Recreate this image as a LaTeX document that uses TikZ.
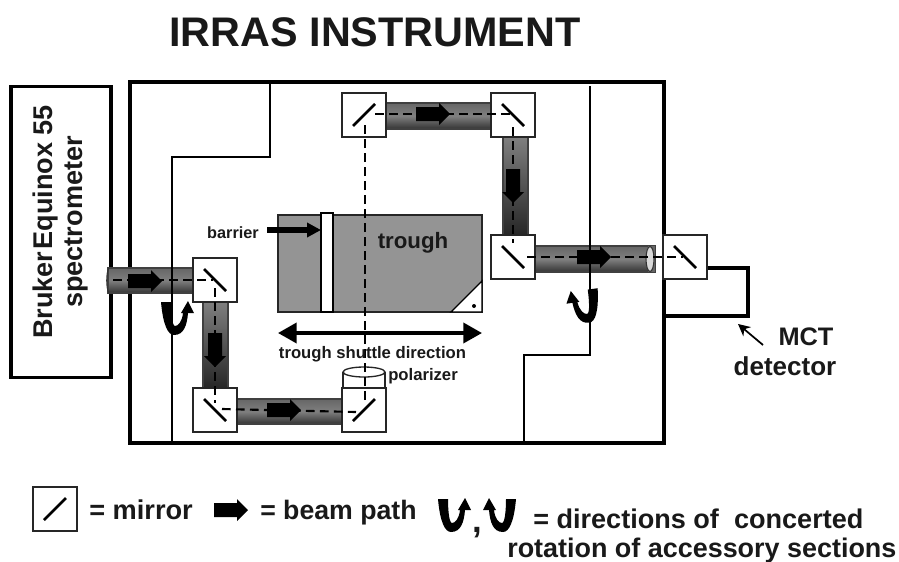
\documentclass[tikz,border=0pt]{standalone}
\usepackage{fontspec}
\setmainfont{Liberation Sans}
\usetikzlibrary{arrows.meta}
\definecolor{troughgray}{gray}{0.58}
\tikzset{
  x=0.75pt,y=-0.75pt,
  every node/.style={font=\bfseries,text=black!90,inner sep=0pt},
  mirrorbox/.style={draw=black!85,fill=white,line width=1.3pt,minimum size=33pt,shape=rectangle},
  thickbox/.style={draw=black,line width=2.5pt},
  thinline/.style={draw=black,line width=0.9pt},
  beamdash/.style={draw=black,line width=1.6pt,dash pattern=on 6.5pt off 4pt},
  tubeh/.style={draw=black!75,line width=0.9pt,top color=black!60,bottom color=black!80,middle color=black!50},
  tubev/.style={draw=black!75,line width=0.9pt,top color=black!50,bottom color=black!85},
  mirrordown/.pic={\draw[line width=2.1pt,black] (-11,-11)--(11,11);},
  mirrorup/.pic={\draw[line width=2.1pt,black] (-11,11)--(11,-11);},
  blockarrow/.pic={\fill[black] (-17,-7)--(6,-7)--(6,-11)--(17,0)--(6,11)--(6,7)--(-17,7)--cycle;},
  uarrow/.pic={\fill[black] (-14,-16) .. controls (-12,7) and (-7,17) .. (-1,17)
     .. controls (9,17) and (12,7) .. (13,-5) -- (19,-5) -- (13,-17) -- (6,-5) -- (8,-5)
     .. controls (7,4) and (3,8) .. (0,8) .. controls (-3,8) and (-4,-6) .. (-4,-16) -- cycle;},
}
\begin{document}
\begin{tikzpicture}
\useasboundingbox (0,0) rectangle (899,561);
\fill[white] (0,0) rectangle (899,561);

\node[font=\bfseries\fontsize{31}{33}\selectfont] (title) at (375,32) {IRRAS INSTRUMENT};

% spectrometer and main housing
\node[thickbox,minimum width=75pt,minimum height=218pt] (spec) at (61,232) {};
\node[rotate=90,anchor=base,font=\bfseries\fontsize{20.3}{24}\selectfont] (spec1) at (52,222) {Bruker\hspace{0.08em}Equinox 55};
\node[rotate=90,anchor=base,font=\bfseries\fontsize{20.3}{24}\selectfont] (spec2) at (82,222) {spectrometer};
\draw[thickbox] (130,82) rectangle (664,443);

% tubes
\shade[tubeh] (108,268) rectangle (193,293);
\shade[tubev] (203,302) rectangle (228,388);
\shade[tubeh] (237,399) rectangle (342,424);
\shade[tubeh] (386,103) rectangle (492,129);
\shade[tubev] (503,137) rectangle (528,235);
\shade[tubeh] (535,246) rectangle (655,272);
\draw[black!80,line width=0.8pt] (109,268) .. controls (106,272) and (106,289) .. (109,293);
\fill[black!60] (648,246) rectangle (655,272);
\draw[black!80,fill=white!70!gray,line width=0.8pt] (650,259) ellipse (4 and 12.5);

% inner partition lines
\draw[thinline] (270,82)--(270,157)--(172,157)--(172,443);
\draw[thinline] (590,86)--(590,355)--(524,355)--(524,443);

% trough
\draw[fill=troughgray,draw=black!85,line width=1pt] (278,215) rectangle (482,312);
\draw[fill=white,draw=black,line width=1pt] (321,213) rectangle (333,312);
\draw[fill=white,draw=black,line width=1pt] (451,312)--(482,281)--(482,312)--cycle;
\fill[black] (474,306) circle (2);
\node[font=\bfseries\fontsize{16.7}{18}\selectfont,anchor=base] (trough) at (413,248) {trough};

% detector wire
\node[mirrorbox] (m7) at (685,257) {};
\coordinate (wireA) at (748,268);
\coordinate (wireB) at (748,316);
\coordinate (wireC) at (664,316);
\draw[black,line width=2.5pt] (m7.east |- wireA)--(wireA)--(wireB)--(wireC);

% polarizer cylinder
\draw[black!85,line width=1pt] (343,372)--(343,388) (385,372)--(385,388);
\draw[black!85,line width=1pt] (364,372) ellipse (21 and 5);

% boxes
\node[mirrorbox] (m1) at (215,280) {};
\node[mirrorbox] (m2) at (215,410) {};
\node[mirrorbox] (m3) at (364,410) {};
\node[mirrorbox] (m4) at (364,115) {};
\node[mirrorbox] (m5) at (513,115) {};
\node[mirrorbox] (m6) at (513,257) {};
\pic at (m1) {mirrordown};
\pic at (m2) {mirrordown};
\pic at (m3) {mirrorup};
\pic at (m4) {mirrorup};
\pic at (m5) {mirrordown};
\pic at (m6) {mirrordown};
\pic at (m7) {mirrordown};

% block arrows
\pic at (145,281) {blockarrow};
\pic[rotate=-90] at (215,350) {blockarrow};
\pic at (284,410) {blockarrow};
\pic at (433,114) {blockarrow};
\pic[rotate=-90] at (513,186) {blockarrow};
\pic at (594,257) {blockarrow};

% beam dashed line
\coordinate (in) at (113,280);
\coordinate (a1) at (213,280);
\coordinate (b1) at (215,288);
\coordinate (b2) at (215,403);
\coordinate (d1) at (222,409);
\coordinate (d2) at (356,412);
\coordinate (e1) at (365,400);
\coordinate (e2) at (365,122);
\coordinate (f1) at (375,114);
\coordinate (f2) at (510,114);
\coordinate (g1) at (513,127);
\coordinate (g2) at (513,243);
\coordinate (h1) at (527,257);
\coordinate (h2) at (683,257);
\draw[beamdash] (in)--(a1);
\draw[beamdash] (b1)--(b2);
\draw[beamdash] (d1)--(d2);
\draw[beamdash] (e1)--(e2);
\draw[beamdash] (f1)--(f2);
\draw[beamdash] (g1)--(g2);
\draw[beamdash] (h1)--(h2);

% rotation arrows
\pic at (175,318) {uarrow};
\pic[xscale=-1,rotate=-8] at (586,306) {uarrow};

% barrier
\node[font=\bfseries\fontsize{12.2}{14}\selectfont,anchor=base] (barriertxt) at (233,238) {barrier};
\coordinate (barriertip) at (321,230);
\draw[-{Triangle[length=10.5pt,width=10.5pt]},line width=4.5pt,black] (267,230)--(barriertip);

% shuttle
\coordinate (shL) at (278,333);
\coordinate (shR) at (482,333);
\draw[{Triangle[length=14pt,width=15pt]}-{Triangle[length=14pt,width=15pt]},line width=2.8pt,black] (shL)--(shR);
\node[font=\bfseries\fontsize{12.5}{14}\selectfont,anchor=base] (shuttle) at (372.5,358) {trough shuttle direction};
\node[font=\bfseries\fontsize{12.5}{14}\selectfont,anchor=base west] (pol) at (388,380) {polarizer};

% detector label
\node[font=\bfseries\fontsize{19}{20}\selectfont,anchor=base] (mct) at (806,345) {MCT};
\node[font=\bfseries\fontsize{19.5}{20}\selectfont,anchor=base] (det) at (785,375) {detector};
\coordinate (dettip) at (738,324);
\draw[-{Stealth[length=9pt,width=9pt]},line width=1.3pt,black] (763,345)--(dettip);

% legend
\node[mirrorbox] (lg) at (55,509) {};
\pic at (lg) {mirrorup};
\node[font=\bfseries\fontsize{20.4}{22}\selectfont,anchor=base west] (l1) at (89,519) {= mirror};
\pic at (231,510) {blockarrow};
\node[font=\bfseries\fontsize{20}{22}\selectfont,anchor=base west] (l2) at (260,519) {= beam path};
\pic at (452,515) {uarrow};
\node[font=\bfseries\fontsize{26}{26}\selectfont,anchor=base] (comma) at (477,532) {,};
\pic[xscale=-1] at (502,515) {uarrow};
\node[font=\bfseries\fontsize{20.3}{22}\selectfont,anchor=base west] (l3) at (533,528) {= directions of\ \ concerted};
\node[font=\bfseries\fontsize{20.2}{22}\selectfont,anchor=base west] (l4) at (507,557) {rotation of accessory sections};
\end{tikzpicture}
\end{document}
